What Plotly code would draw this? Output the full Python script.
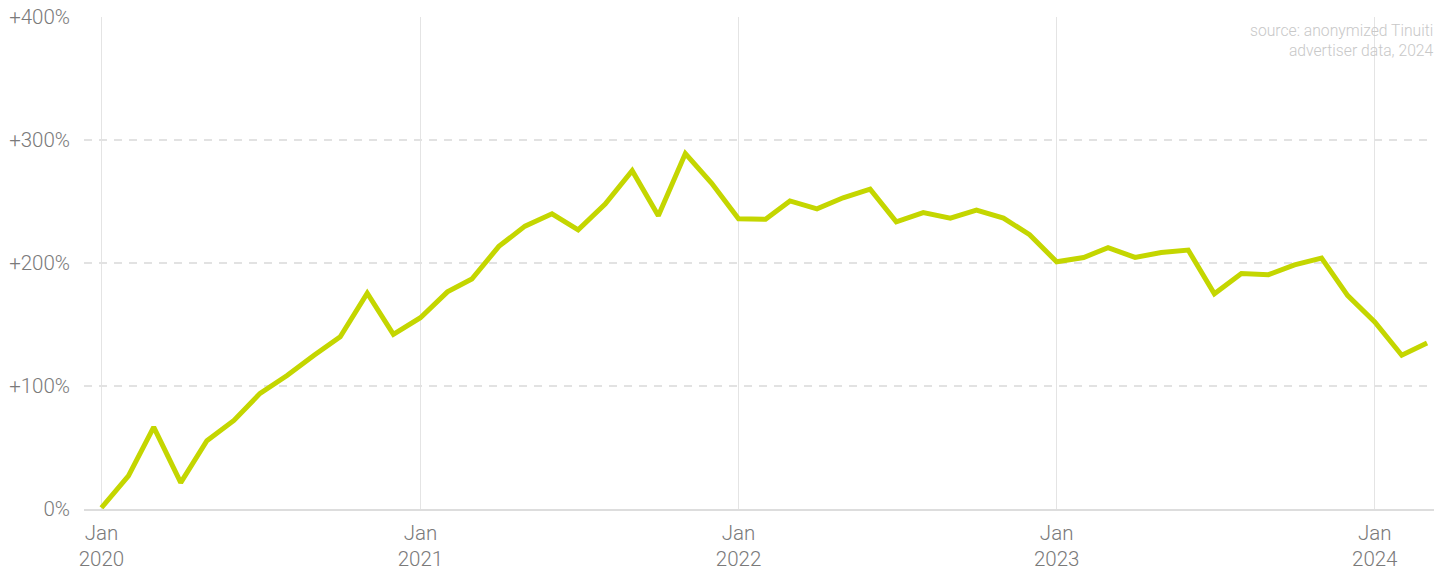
import plotly.graph_objects as go

# Monthly growth index (% change vs. Jan 2020)
months = [
    "2020-01-01", "2020-02-01", "2020-03-01", "2020-04-01", "2020-05-01", "2020-06-01",
    "2020-07-01", "2020-08-01", "2020-09-01", "2020-10-01", "2020-11-01", "2020-12-01",
    "2021-01-01", "2021-02-01", "2021-03-01", "2021-04-01", "2021-05-01", "2021-06-01",
    "2021-07-01", "2021-08-01", "2021-09-01", "2021-10-01", "2021-11-01", "2021-12-01",
    "2022-01-01", "2022-02-01", "2022-03-01", "2022-04-01", "2022-05-01", "2022-06-01",
    "2022-07-01", "2022-08-01", "2022-09-01", "2022-10-01", "2022-11-01", "2022-12-01",
    "2023-01-01", "2023-02-01", "2023-03-01", "2023-04-01", "2023-05-01", "2023-06-01",
    "2023-07-01", "2023-08-01", "2023-09-01", "2023-10-01", "2023-11-01", "2023-12-01",
    "2024-01-01", "2024-02-01", "2024-03-01",
]
growth_pct = [
    1, 27, 66.5, 21.5, 55.5, 72, 94, 108.5, 125, 140, 175.5, 142,
    155.5, 176.5, 187, 213.5, 230, 240, 227, 248, 275, 238.5, 289, 265,
    236, 235.5, 250.5, 244, 253, 260, 233.5, 241, 236.5, 243, 236.5, 223,
    201, 204.5, 212.5, 204.5, 208.5, 210.5, 175, 191.5, 190.5, 198.5, 204, 173.5,
    152, 125, 135,
]

year_ticks = ["2020-01-01", "2021-01-01", "2022-01-01", "2023-01-01", "2024-01-01"]
year_labels = ["Jan<br>2020", "Jan<br>2021", "Jan<br>2022", "Jan<br>2023", "Jan<br>2024"]
pct_ticks = [0, 100, 200, 300, 400]
pct_labels = ["0%", "+100%", "+200%", "+300%", "+400%"]

label_font = dict(family="Roboto", size=20.5, color="#7a7a7a", weight=300)

fig = go.Figure()
fig.add_trace(go.Scatter(
    x=months, y=growth_pct, mode="lines",
    line=dict(color="#c4d600", width=5),
    hoverinfo="skip", showlegend=False,
))

fig.update_layout(
    width=1454, height=574,
    margin=dict(l=84, r=20, t=17, b=65),
    paper_bgcolor="white", plot_bgcolor="white",
    showlegend=False,
    xaxis=dict(
        type="date",
        range=["2019-12-12", "2024-03-09"],
        tickmode="array", tickvals=year_ticks, ticktext=year_labels,
        tickfont=label_font,
        showgrid=True, gridcolor="#e4e4e4", gridwidth=1,
        showline=True, linecolor="#dddddd", linewidth=2,
        ticks="", zeroline=False, automargin=False,
        ticklabelstandoff=4,
    ),
    yaxis=dict(
        range=[0, 400],
        tickmode="array", tickvals=pct_ticks, ticktext=pct_labels,
        tickfont=label_font,
        showgrid=True, gridcolor="#e2e2e2", gridwidth=1.5, griddash="8px,7px",
        zeroline=False, showline=False, ticks="",
        ticklabelstandoff=13, automargin=False,
    ),
    annotations=[dict(
        text="source: anonymized Tinuiti<br>advertiser data, 2024",
        xref="paper", yref="paper", x=1, y=1,
        xanchor="right", yanchor="top", align="right",
        xshift=2, yshift=-2, showarrow=False,
        font=dict(family="Roboto", size=15.7, color="#c8c8c8", weight=300),
    )],
)

fig.write_html("out.html")
